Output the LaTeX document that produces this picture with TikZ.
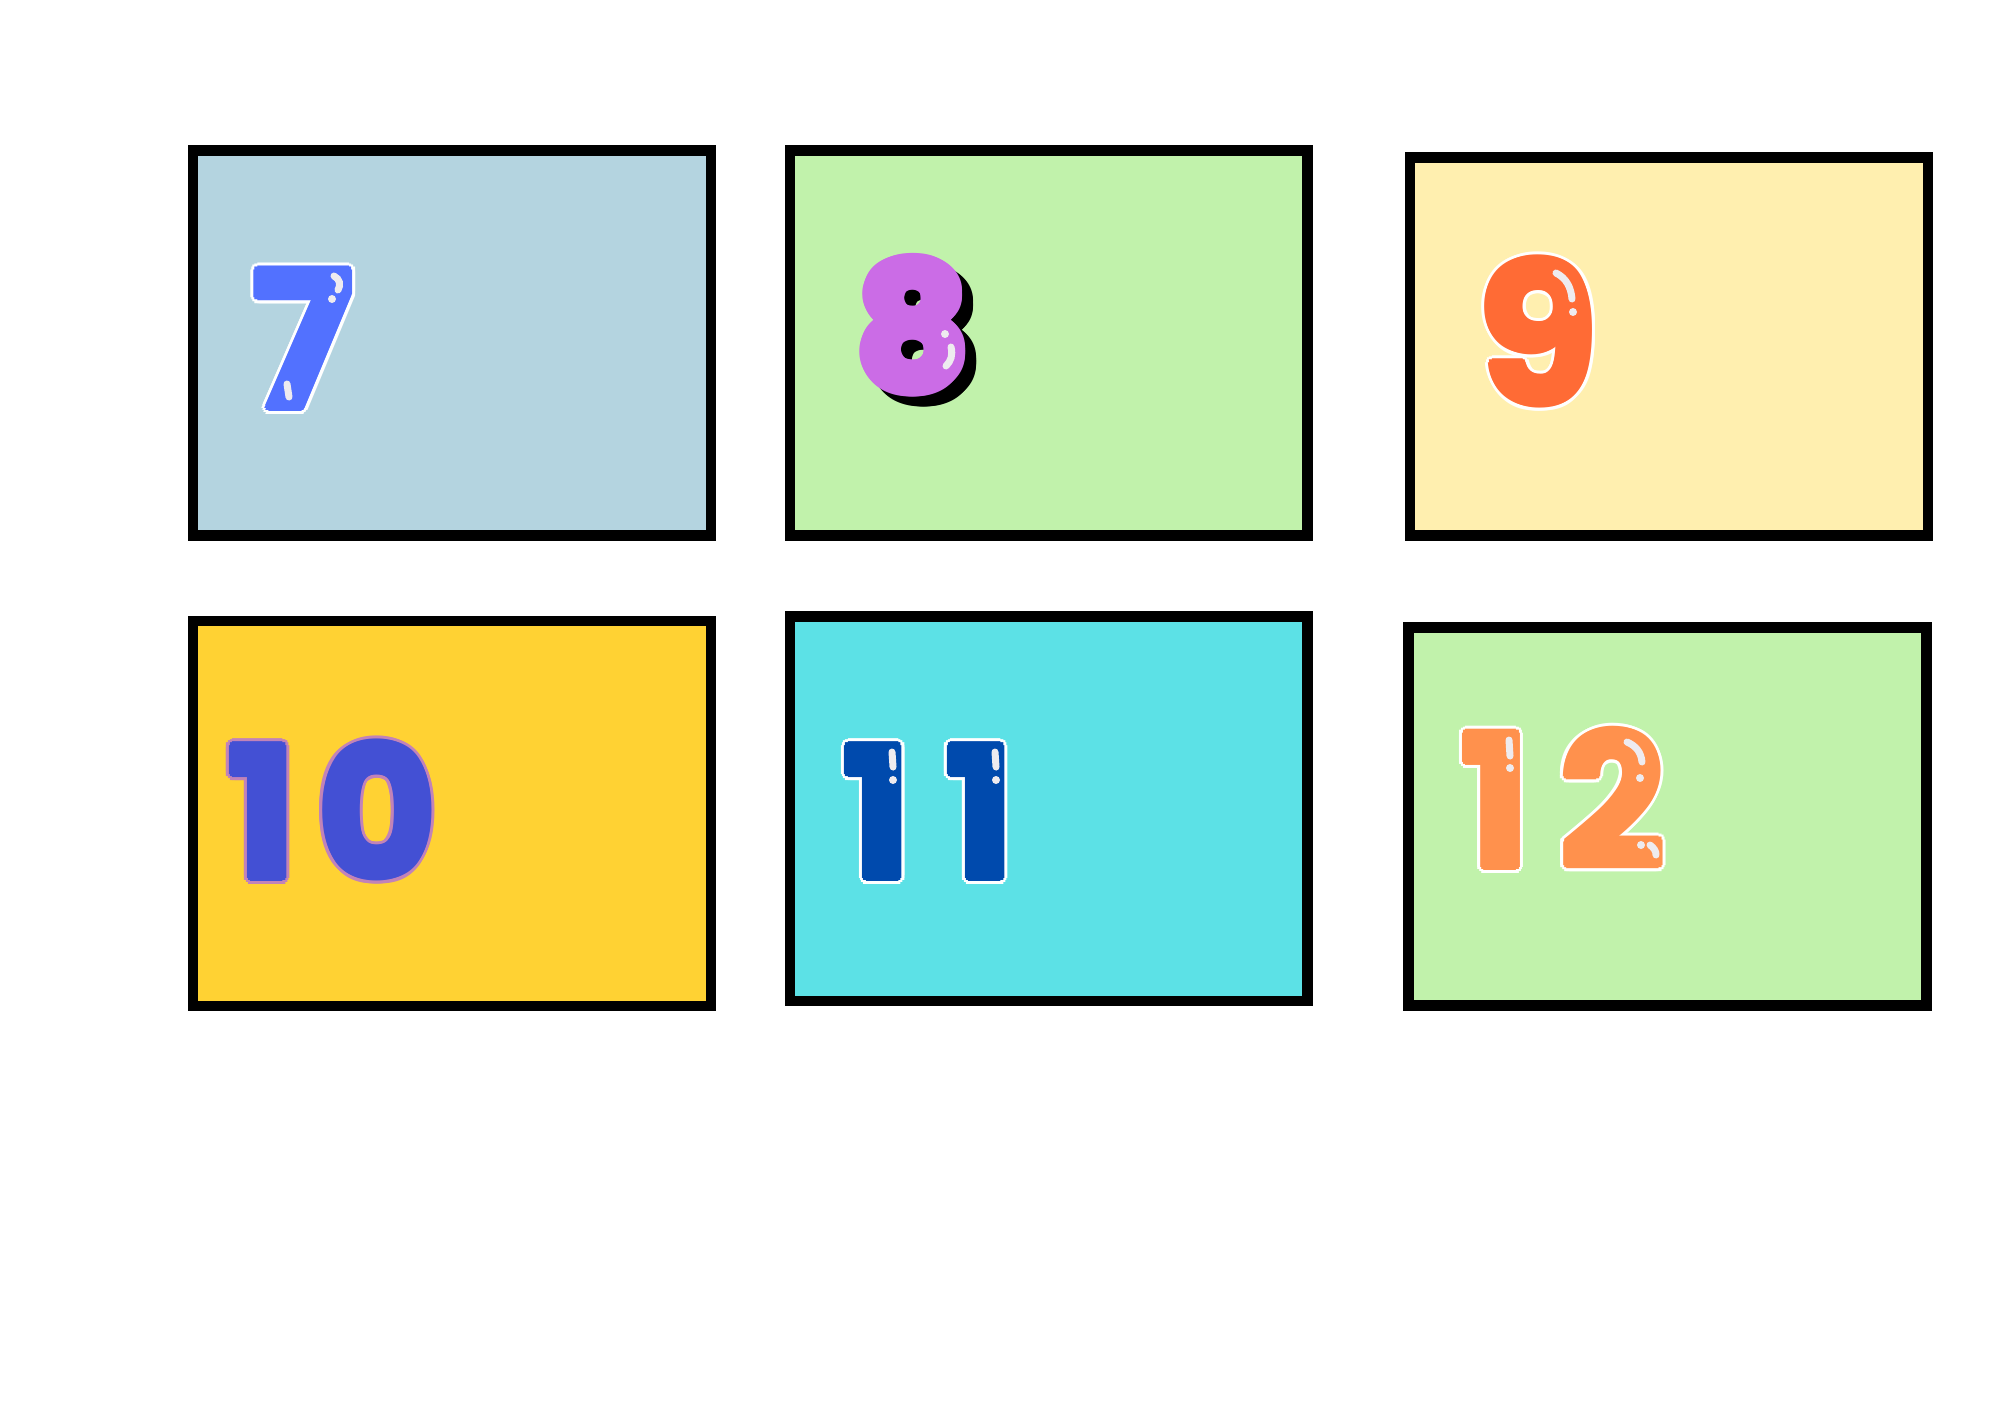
\documentclass[tikz,border=0pt]{standalone}
\usepackage{fontspec}
\newfontfamily\digitfont{Poppins}
\usetikzlibrary{calc}
\definecolor{bA}{HTML}{B4D4E0}
\definecolor{bB}{HTML}{C1F2AB}
\definecolor{bC}{HTML}{FFEFAF}
\definecolor{bD}{HTML}{FFD233}
\definecolor{bE}{HTML}{5CE1E6}
\definecolor{cSeven}{HTML}{5271FF}
\definecolor{cEight}{HTML}{CB6CE6}
\definecolor{cNine}{HTML}{FF6B35}
\definecolor{cTen}{HTML}{4350D4}
\definecolor{cTenO}{HTML}{C283B8}
\definecolor{cEleven}{HTML}{004AAD}
\definecolor{cTwelve}{HTML}{FF914D}
\definecolor{gloss}{HTML}{EEEBEF}
\tikzset{
  card/.style={draw=black, line width=10.7pt},
  dig/.style={inner sep=0pt, anchor=base},
  shine/.style={draw=gloss, line width=7pt, line cap=round},
  shinedot/.style={fill=gloss},
}
% name, x, y, fill, outline, digit, size
\newcommand\bub[7]{%
  \foreach \a in {0,22.5,...,337.5}{\node[dig, font=\digitfont\bfseries\fontsize{#7}{#7}\selectfont, text=#5] at ($(#2,#3)+(\a:6.5)$) {#6};}
  \foreach \a in {0,45,...,315}{\node[dig, font=\digitfont\bfseries\fontsize{#7}{#7}\selectfont, text=#4] at ($(#2,#3)+(\a:3.5)$) {#6};}
  \node[dig, font=\digitfont\bfseries\fontsize{#7}{#7}\selectfont, text=#4] (#1) at (#2,#3) {#6};}
\begin{document}
\begin{tikzpicture}[x=1pt,y=-1pt]
\useasboundingbox[fill=white] (0,0) rectangle (2000,1414);
% cards
\path[card, fill=bA] (193,150.7) rectangle (711,535.3);
\path[card, fill=bB] (790,150.7) rectangle (1307.7,535.3);
\path[card, fill=bC] (1410,157.3) rectangle (1928,535.3);
\path[card, fill=bD] (193,621) rectangle (711,1006);
\path[card, fill=bE] (790,616.7) rectangle (1307.7,1001);
\path[card, fill=bB] (1408.5,627.3) rectangle (1926.7,1005.8);
% numbers
\bub{n7}{303}{408}{cSeven}{white}{7}{190}
\bub{n8s}{924}{398}{black}{black}{8}{172}
\bub{n8}{913}{388}{cEight}{cEight}{8}{172}
\bub{n9}{1538}{404}{cNine}{white}{9}{195}
\bub{n10a}{262}{878}{cTen}{cTenO}{1}{182}
\bub{n10b}{377}{878}{cTen}{cTenO}{0}{182}
\bub{n11a}{877.5}{878}{cEleven}{white}{1}{182}
\bub{n11b}{980}{878}{cEleven}{white}{1}{182}
\bub{n12a}{1495.5}{867}{cTwelve}{white}{1}{184}
\bub{n12b}{1612.5}{867}{cTwelve}{white}{2}{184}
% gloss highlights
\draw[shine] (334,276) .. controls (340,279) and (341,285) .. (338,290);
\fill[shinedot] (332,299) circle (4);
\draw[shine] (287,384) -- (289,397);
\fill[shinedot] (945,334) circle (4);
\draw[shine] (951,347) .. controls (953,355) and (951,361) .. (946,366);
\draw[shine] (1556,273) .. controls (1566,278) and (1571,287) .. (1572,299);
\fill[shinedot] (1573,312) circle (4);
\draw[shine] (892,752) -- (893,767);
\fill[shinedot] (893,780) circle (4);
\draw[shine] (995,752) -- (996,767);
\fill[shinedot] (996,780) circle (4);
\draw[shine] (1509,740) -- (1510,756);
\fill[shinedot] (1510,768) circle (4);
\draw[shine] (1627,742) .. controls (1636,746) and (1641,752) .. (1642,762);
\fill[shinedot] (1640,778) circle (4);
\fill[shinedot] (1641,845) circle (4);
\draw[shine] (1650,845) .. controls (1654,848) and (1656,851) .. (1656,855);
\end{tikzpicture}
\end{document}
